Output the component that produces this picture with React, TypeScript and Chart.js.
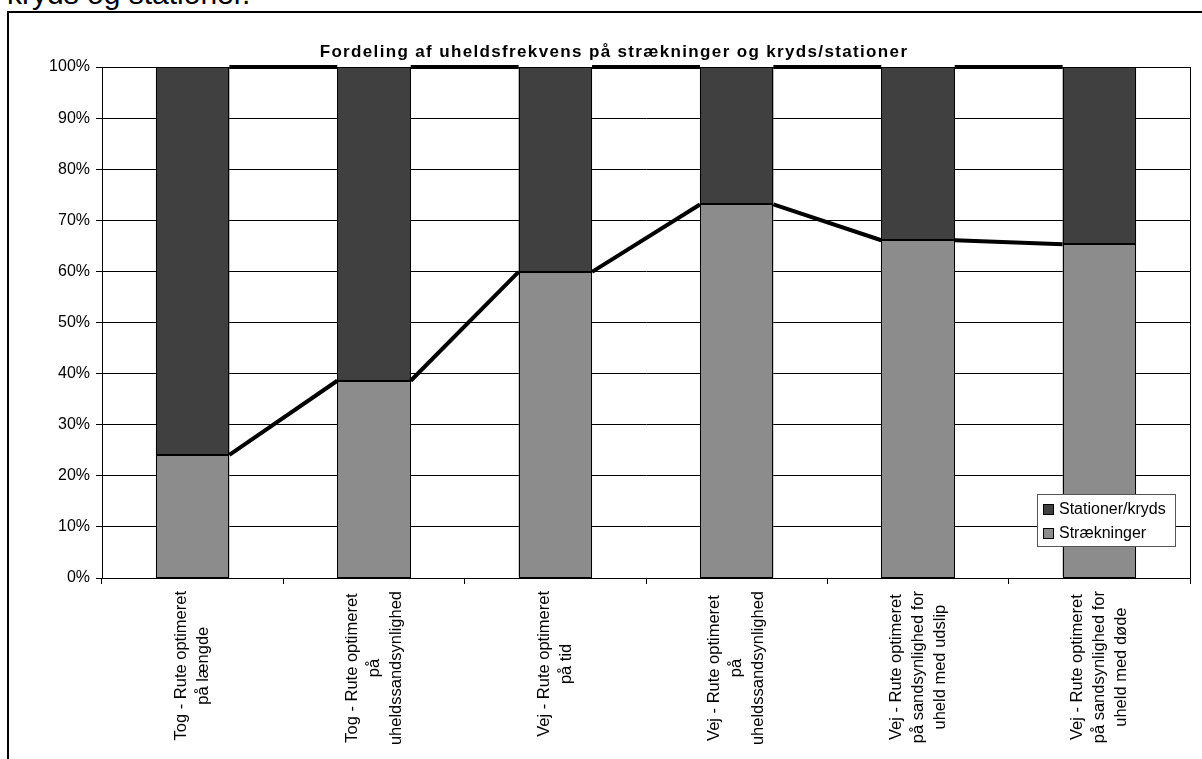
import React, { useEffect, useRef } from "react";
import { Chart, registerables } from "chart.js";

Chart.register(...registerables);

// ---------- data ----------
const categories: string[][] = [
  ["Tog - Rute optimeret", "på længde"],
  ["Tog - Rute optimeret", "på", "uheldssandsynlighed"],
  ["Vej - Rute optimeret", "på tid"],
  ["Vej - Rute optimeret", "på", "uheldssandsynlighed"],
  ["Vej - Rute optimeret", "på sandsynlighed for", "uheld med udslip"],
  ["Vej - Rute optimeret", "på sandsynlighed for", "uheld med døde"],
];
const straekninger = [24.1, 38.6, 59.9, 73.1, 66.1, 65.3];
const stationerKryds = [75.9, 61.4, 40.1, 26.9, 33.9, 34.7];
const yTickValues = [0, 10, 20, 30, 40, 50, 60, 70, 80, 90, 100];
const chartTitle = "Fordeling af uheldsfrekvens på strækninger og kryds/stationer";
const seriesNames = ["Strækninger", "Stationer/kryds"];
const pageText = "kryds og stationer.";

const FONT = '"Liberation Sans", Arial, sans-serif';
const LIGHT = "#8c8c8c";
const DARK = "#404040";

const seriesLinesPlugin = {
  id: "seriesLines",
  afterDatasetsDraw(chart: any) {
    const ctx = chart.ctx;
    ctx.save();
    // bar outlines
    ctx.strokeStyle = "#000";
    ctx.lineWidth = 1;
    chart.data.datasets.forEach((_ds: any, di: number) => {
      chart.getDatasetMeta(di).data.forEach((el: any) => {
        const l = Math.round(el.x - el.width / 2) + 0.5;
        const r = Math.round(el.x + el.width / 2) - 0.5;
        const t = Math.round(el.y) + 0.5;
        const b = Math.round(el.base) - 0.5;
        ctx.strokeRect(l, t, r - l, b - t);
      });
    });
    // series lines
    ctx.lineWidth = 4;
    chart.data.datasets.forEach((_ds: any, di: number) => {
      const els = chart.getDatasetMeta(di).data;
      for (let i = 0; i < els.length - 1; i++) {
        const a = els[i];
        const b = els[i + 1];
        ctx.beginPath();
        ctx.moveTo(a.x + a.width / 2, a.y);
        ctx.lineTo(b.x - b.width / 2, b.y);
        ctx.stroke();
      }
    });
    ctx.restore();
  },
};

const decorPlugin = {
  id: "decor",
  afterDraw(chart: any) {
    const ctx = chart.ctx;
    const ca = chart.chartArea;
    const xs = chart.scales.x;
    ctx.save();

    // right border of plot area
    ctx.strokeStyle = "#000";
    ctx.lineWidth = 1;
    ctx.beginPath();
    ctx.moveTo(Math.round(ca.right) + 0.5, ca.top);
    ctx.lineTo(Math.round(ca.right) + 0.5, ca.bottom + 6);
    ctx.stroke();

    // title
    ctx.fillStyle = "#000";
    ctx.font = `bold 17px ${FONT}`;
    try {
      (ctx as any).letterSpacing = "1.35px";
    } catch (e) {}
    ctx.textAlign = "center";
    ctx.textBaseline = "alphabetic";
    ctx.fillText(chartTitle, 614, 57);
    try {
      (ctx as any).letterSpacing = "0px";
    } catch (e) {}

    // x-axis labels (rotated, centred lines)
    ctx.font = `16.5px ${FONT}`;
    const lineH = 22;
    (chart.data.labels as string[][]).forEach((lines, i) => {
      const x = xs.getPixelForValue(i);
      const maxW = Math.max(...lines.map((l) => ctx.measureText(l).width));
      const cy = ca.bottom + 13 + maxW / 2;
      ctx.save();
      ctx.translate(x, cy);
      ctx.rotate(-Math.PI / 2);
      ctx.textAlign = "center";
      ctx.textBaseline = "middle";
      lines.forEach((l, j) => {
        ctx.fillText(l, 0, (j - (lines.length - 1) / 2) * lineH);
      });
      ctx.restore();
    });

    // legend
    const lx = Math.round(ca.right) - 153;
    const ly = Math.round(ca.bottom) - 84;
    const lw = 138;
    const lh = 52;
    ctx.fillStyle = "#fff";
    ctx.fillRect(lx, ly, lw, lh);
    ctx.strokeStyle = "#555";
    ctx.lineWidth = 1;
    ctx.strokeRect(lx + 0.5, ly + 0.5, lw, lh);
    const items = [1, 0].map((di) => chart.data.datasets[di]);
    items.forEach((ds: any, k: number) => {
      const cyy = ly + 15 + k * 24;
      ctx.fillStyle = ds.backgroundColor;
      ctx.fillRect(lx + 6, cyy - 5, 11, 11);
      ctx.strokeStyle = "#000";
      ctx.strokeRect(lx + 6.5, cyy - 4.5, 10, 10);
      ctx.fillStyle = "#000";
      ctx.font = `16px ${FONT}`;
      ctx.textAlign = "left";
      ctx.textBaseline = "middle";
      ctx.fillText(ds.label, lx + 22, cyy + 1);
    });

    ctx.restore();
  },
};

export default function App() {
  const canvasRef = useRef<HTMLCanvasElement | null>(null);

  useEffect(() => {
    document.body.style.margin = "0";
    document.body.style.overflow = "hidden";
    const canvas = canvasRef.current!;
    const chart = new Chart(canvas, {
      type: "bar",
      data: {
        labels: categories as any,
        datasets: [
          {
            label: seriesNames[0],
            data: straekninger,
            backgroundColor: LIGHT,
            borderWidth: 0,
            categoryPercentage: 1,
            barPercentage: 0.405,
          },
          {
            label: seriesNames[1],
            data: stationerKryds,
            backgroundColor: DARK,
            borderWidth: 0,
            categoryPercentage: 1,
            barPercentage: 0.405,
          },
        ],
      },
      options: {
        responsive: false,
        animation: false,
        devicePixelRatio: 1,
        layout: { padding: { left: 42, right: 12, top: 67, bottom: 0 } },
        plugins: {
          legend: { display: false },
          title: { display: false },
          tooltip: { enabled: false },
        },
        scales: {
          x: {
            stacked: true,
            offset: true,
            grid: {
              offset: true,
              drawOnChartArea: false,
              drawTicks: true,
              tickLength: 6,
              color: "#000",
              lineWidth: 1,
            },
            border: { display: true, color: "#000", width: 1 },
            ticks: { display: false },
            afterFit: (s: any) => {
              s.height = 181;
            },
          },
          y: {
            stacked: true,
            min: 0,
            max: 100,
            grid: {
              color: "#000",
              lineWidth: 1,
              drawTicks: true,
              tickLength: 6,
            },
            border: { display: true, color: "#000", width: 1 },
            ticks: {
              color: "#000",
              font: { family: FONT, size: 16 },
              padding: 6,
              callback: (v: any) => `${v}%`,
            },
            afterBuildTicks: (s: any) => {
              s.ticks = yTickValues.map((v) => ({ value: v }));
            },
            afterFit: (s: any) => {
              s.width = 60;
            },
          },
        },
      },
      plugins: [seriesLinesPlugin, decorPlugin],
    });
    return () => chart.destroy();
  }, []);

  return (
    <div style={{ position: "relative", width: 1202, height: 759, overflow: "hidden", background: "#fff" }}>
      <div
        style={{
          position: "absolute",
          left: 7,
          top: -21,
          fontFamily: FONT,
          fontSize: 30,
          lineHeight: "30px",
          color: "#000",
          whiteSpace: "nowrap",
        }}
      >
        {pageText}
      </div>
      <div
        style={{
          position: "absolute",
          left: 7,
          top: 11,
          width: 1195,
          height: 748,
          boxSizing: "border-box",
          borderLeft: "2px solid #000",
          borderTop: "2px solid #000",
        }}
      />
      <canvas
        ref={canvasRef}
        width={1202}
        height={759}
        style={{ position: "absolute", left: 0, top: 0, width: 1202, height: 759 }}
      />
    </div>
  );
}
